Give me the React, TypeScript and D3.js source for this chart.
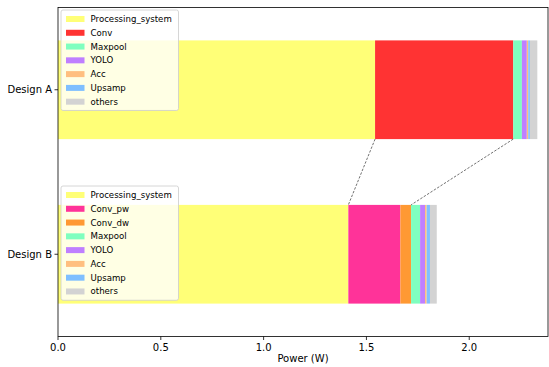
import React from 'react';
import * as d3 from 'd3';

const designs = ['Design A', 'Design B'];
const designPos = [1, 0];

const partsA = ['Processing_system', 'Conv', 'Maxpool', 'YOLO', 'Acc', 'Upsamp', 'others'];
const valuesA = [1.542, 0.672, 0.042, 0.024, 0.007, 0.008, 0.036];

const partsB = ['Processing_system', 'Conv_pw', 'Conv_dw', 'Maxpool', 'YOLO', 'Acc', 'Upsamp', 'others'];
const valuesB = [1.412, 0.253, 0.052, 0.044, 0.024, 0.008, 0.016, 0.033];

const colors: Record<string, string> = {
  Processing_system: '#ffff77',
  Conv: '#ff3333',
  Conv_pw: '#ff3399',
  Conv_dw: '#ff9933',
  Maxpool: '#7fffbf',
  YOLO: '#bf7fff',
  Acc: '#ffbf7f',
  Upsamp: '#7fbfff',
  others: '#d3d3d3',
};

const xTicks = [0, 0.5, 1.0, 1.5, 2.0];

const W = 549;
const H = 367;
const margin = { top: 7.5, right: 1, bottom: 30.5, left: 58 };
const font = 'DejaVu Sans, sans-serif';
const fs = 10;
const legendFs = 8.6;

function stack(values: number[]) {
  let acc = 0;
  return values.map((v) => {
    const s = acc;
    acc += v;
    return [s, acc];
  });
}

export default function App() {
  const x = d3.scaleLinear().domain([0, 2.383]).range([margin.left, W - margin.right]);
  const y = d3.scaleLinear().domain([-0.5, 1.5]).range([H - margin.bottom, margin.top]);
  const barH = y(0) - y(0.6);

  const groups = [
    { name: designs[0], pos: designPos[0], parts: partsA, vals: valuesA },
    { name: designs[1], pos: designPos[1], parts: partsB, vals: valuesB },
  ];

  const stA = stack(valuesA);
  const stB = stack(valuesB);
  // dashed connectors between the two bars
  const links = [
    [stA[0][1], stB[0][1]],
    [stA[1][1], stB[2][1]],
  ];
  const yABottom = y(designPos[0]) + barH / 2;
  const yBTop = y(designPos[1]) - barH / 2;

  const legend = (parts: string[], lx: number, ly: number) => {
    const rowH = 13.78;
    const boxW = 117.5;
    const boxH = parts.length * rowH + 4;
    return (
      <g transform={`translate(${lx},${ly})`}>
        <rect x={0} y={0} width={boxW} height={boxH} rx={2} fill="white" fillOpacity={0.8} stroke="#cccccc" strokeWidth={0.8} />
        {parts.map((p, i) => (
          <g key={p} transform={`translate(0,${9 + i * rowH})`}>
            <rect x={5} y={-3} width={18.5} height={6} fill={colors[p]} />
            <text x={29.5} dy="0.35em" fontSize={legendFs} fontFamily={font} fill="#000">{p}</text>
          </g>
        ))}
      </g>
    );
  };

  return (
    <svg width={W} height={H} style={{ position: 'absolute', left: 0, top: 0, background: 'white' }}>
      {groups.map((g) => {
        const st = stack(g.vals);
        return (
          <g key={g.name}>
            {g.parts.map((p, i) => (
              <rect
                key={p}
                x={x(st[i][0])}
                y={y(g.pos) - barH / 2}
                width={x(st[i][1]) - x(st[i][0])}
                height={barH}
                fill={colors[p]}
              />
            ))}
          </g>
        );
      })}
      {links.map(([a, b], i) => (
        <line key={i} x1={x(a)} y1={yABottom} x2={x(b)} y2={yBTop} stroke="#333" strokeWidth={0.7} strokeDasharray="2.5,1.5" />
      ))}
      {legend(partsA, 61, 10)}
      {legend(partsB, 61, 186)}
      <rect x={margin.left} y={margin.top} width={W - margin.right - margin.left} height={H - margin.bottom - margin.top} fill="none" stroke="black" strokeWidth={0.8} />
      {xTicks.map((t) => (
        <g key={t} transform={`translate(${x(t)},${H - margin.bottom})`}>
          <line y2={3.5} stroke="black" strokeWidth={0.8} />
          <text y={14.5} textAnchor="middle" fontSize={fs} fontFamily={font} fill="#000">{t.toFixed(1)}</text>
        </g>
      ))}
      {groups.map((g) => (
        <g key={g.name} transform={`translate(${margin.left},${y(g.pos)})`}>
          <line x2={-3.5} stroke="black" strokeWidth={0.8} />
          <text x={-6} dy="0.35em" textAnchor="end" fontSize={fs} fontFamily={font} fill="#000">{g.name}</text>
        </g>
      ))}
      <text x={(margin.left + W - margin.right) / 2} y={H - 5} textAnchor="middle" fontSize={fs} fontFamily={font} fill="#000">Power (W)</text>
    </svg>
  );
}
